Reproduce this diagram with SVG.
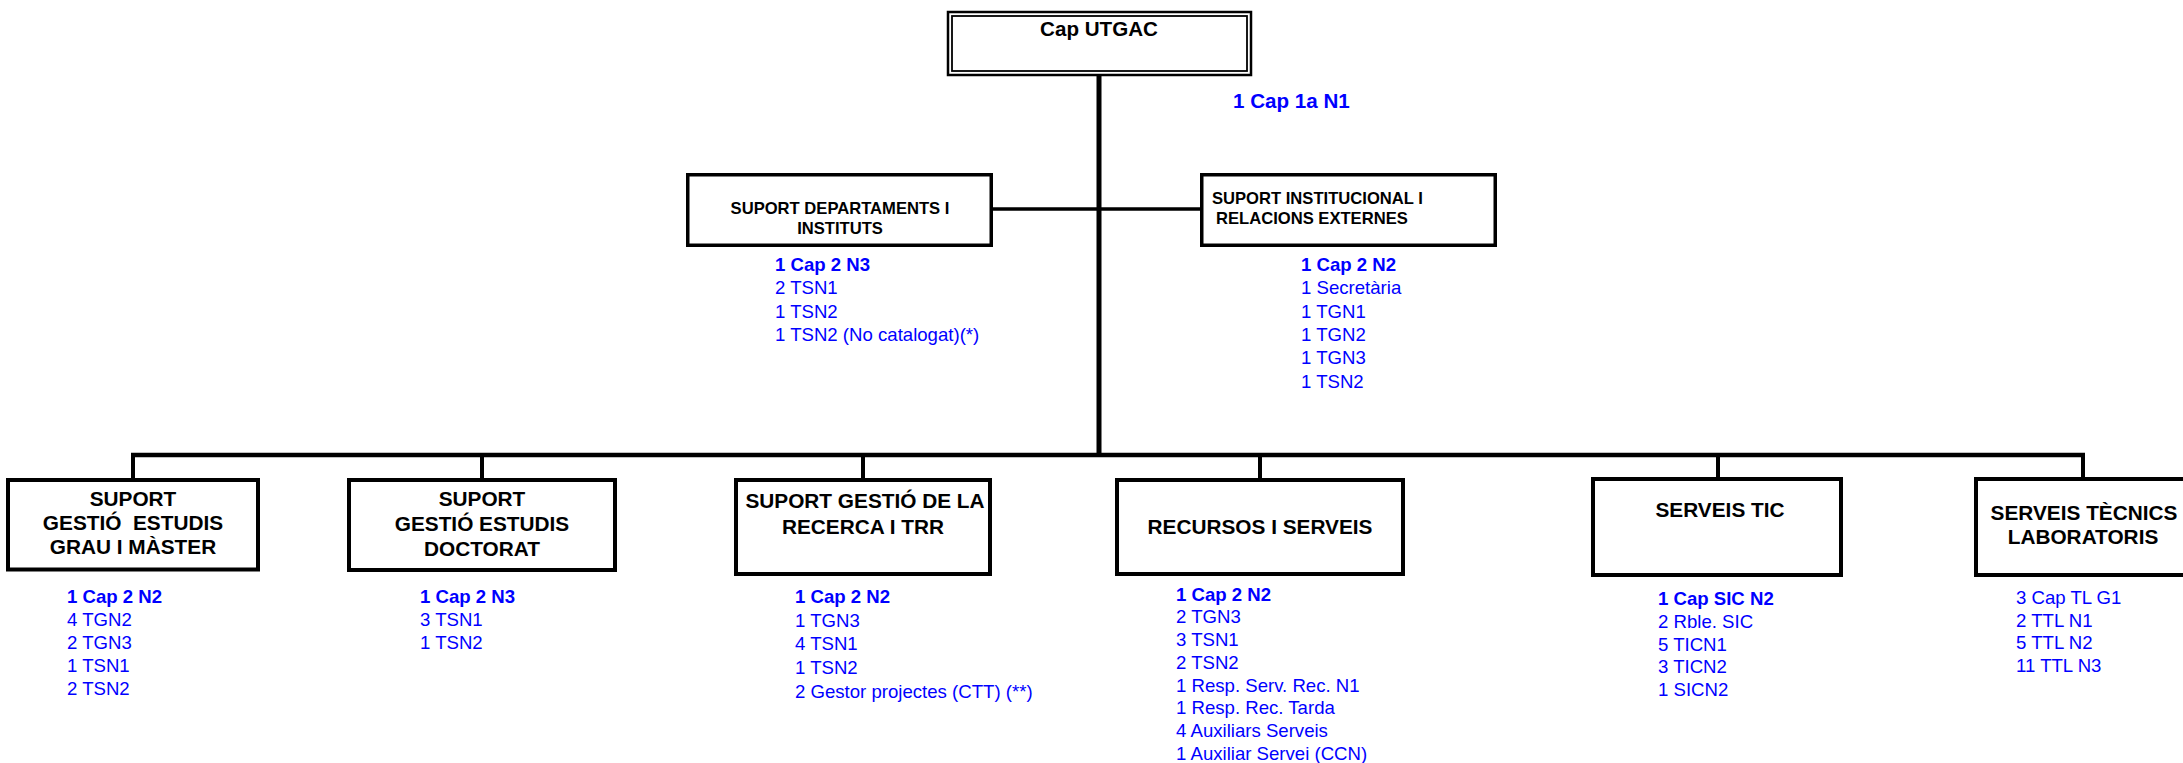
<svg xmlns="http://www.w3.org/2000/svg" width="2183" height="763" viewBox="0 0 2183 763">
<style>
.bg{fill:#ffffff}
.box{fill:#ffffff;stroke:#000000;stroke-width:4}
.box2{fill:#ffffff;stroke:#000000;stroke-width:3.5}
.lbl{font-family:"Liberation Sans",Arial,sans-serif;font-weight:bold;fill:#000000;text-anchor:middle;white-space:pre}
.l2{font-size:16.6px}
.l3{font-size:20.8px}
.lst{font-family:"Liberation Sans",Arial,sans-serif;font-size:18.6px;fill:#0000ff}
.b{font-weight:bold}
.con{fill:none;stroke:#000000;stroke-linecap:butt}
</style>
<rect class="bg" x="0" y="0" width="2183" height="763"/>

<g id="connectors">
  <line class="con" x1="1099" y1="76" x2="1099" y2="457" stroke-width="5"/>
  <line class="con" x1="993" y1="209" x2="1200" y2="209" stroke-width="3.5"/>
  <line class="con" x1="131" y1="455" x2="2085" y2="455" stroke-width="4.5"/>
  <line class="con" x1="133" y1="453" x2="133" y2="479" stroke-width="4"/>
  <line class="con" x1="482" y1="453" x2="482" y2="479" stroke-width="4"/>
  <line class="con" x1="863" y1="453" x2="863" y2="479" stroke-width="4"/>
  <line class="con" x1="1260" y1="453" x2="1260" y2="479" stroke-width="4"/>
  <line class="con" x1="1718" y1="453" x2="1718" y2="478" stroke-width="4"/>
  <line class="con" x1="2083" y1="453" x2="2083" y2="478" stroke-width="4"/>
</g>

<g id="cap-utgac">
  <rect x="948" y="12" width="303" height="63" fill="#ffffff" stroke="#000000" stroke-width="2.5"/>
  <rect x="952" y="16" width="295" height="55" fill="none" stroke="#000000" stroke-width="1.8"/>
  <text class="lbl" x="1099" y="36" font-size="20.6">Cap UTGAC</text>
  <text class="lst b" x="1233" y="108" font-size="20.6" style="font-size:20.6px">1 Cap 1a N1</text>
</g>

<g id="suport-departaments">
  <rect class="box2" x="687.75" y="174.75" width="303.5" height="70.5"/>
  <text class="lbl l2" x="840" y="213.5">SUPORT DEPARTAMENTS I</text>
  <text class="lbl l2" x="840" y="234">INSTITUTS</text>
  <text class="lst b" x="775" y="271">1 Cap 2 N3</text>
  <text class="lst" x="775" y="294.3">2 TSN1</text>
  <text class="lst" x="775" y="317.6">1 TSN2</text>
  <text class="lst" x="775" y="341">1 TSN2 (No catalogat)(*)</text>
</g>

<g id="suport-institucional">
  <rect class="box2" x="1201.75" y="174.75" width="293.5" height="70.5"/>
  <text class="lbl l2" x="1212" y="203.5" style="text-anchor:start">SUPORT INSTITUCIONAL I</text>
  <text class="lbl l2" x="1216" y="223.5" style="text-anchor:start">RELACIONS EXTERNES</text>
  <text class="lst b" x="1301" y="271">1 Cap 2 N2</text>
  <text class="lst" x="1301" y="294.3">1 Secretària</text>
  <text class="lst" x="1301" y="317.6">1 TGN1</text>
  <text class="lst" x="1301" y="341">1 TGN2</text>
  <text class="lst" x="1301" y="364.2">1 TGN3</text>
  <text class="lst" x="1301" y="387.5">1 TSN2</text>
</g>

<g id="grau-master">
  <rect class="box" x="8" y="480" width="250" height="89.5"/>
  <text class="lbl l3" x="133" y="505.7">SUPORT</text>
  <text class="lbl l3" x="133" y="530">GESTIÓ  ESTUDIS</text>
  <text class="lbl l3" x="133" y="554.3">GRAU I MÀSTER</text>
  <text class="lst b" x="67" y="603.3">1 Cap 2 N2</text>
  <text class="lst" x="67" y="626.3">4 TGN2</text>
  <text class="lst" x="67" y="649.3">2 TGN3</text>
  <text class="lst" x="67" y="672.3">1 TSN1</text>
  <text class="lst" x="67" y="695.3">2 TSN2</text>
</g>

<g id="doctorat">
  <rect class="box" x="349" y="480" width="266" height="90"/>
  <text class="lbl l3" x="482" y="505.7">SUPORT</text>
  <text class="lbl l3" x="482" y="530.7">GESTIÓ ESTUDIS</text>
  <text class="lbl l3" x="482" y="555.5">DOCTORAT</text>
  <text class="lst b" x="420" y="603.3">1 Cap 2 N3</text>
  <text class="lst" x="420" y="626.3">3 TSN1</text>
  <text class="lst" x="420" y="649.3">1 TSN2</text>
</g>

<g id="recerca">
  <rect class="box" x="736" y="480" width="254" height="94"/>
  <text class="lbl l3" x="865" y="508">SUPORT GESTIÓ DE LA</text>
  <text class="lbl l3" x="863" y="534">RECERCA I TRR</text>
  <text class="lst b" x="795" y="603.3">1 Cap 2 N2</text>
  <text class="lst" x="795" y="626.8">1 TGN3</text>
  <text class="lst" x="795" y="650.3">4 TSN1</text>
  <text class="lst" x="795" y="673.8">1 TSN2</text>
  <text class="lst" x="795" y="697.5">2 Gestor projectes (CTT) (**)</text>
</g>

<g id="recursos">
  <rect class="box" x="1117" y="480" width="286" height="94"/>
  <text class="lbl l3" x="1260" y="534">RECURSOS I SERVEIS</text>
  <text class="lst b" x="1176" y="600.7">1 Cap 2 N2</text>
  <text class="lst" x="1176" y="623.4">2 TGN3</text>
  <text class="lst" x="1176" y="646.1">3 TSN1</text>
  <text class="lst" x="1176" y="668.8">2 TSN2</text>
  <text class="lst" x="1176" y="691.5">1 Resp. Serv. Rec. N1</text>
  <text class="lst" x="1176" y="714.2">1 Resp. Rec. Tarda</text>
  <text class="lst" x="1176" y="736.9">4 Auxiliars Serveis</text>
  <text class="lst" x="1176" y="759.6">1 Auxiliar Servei (CCN)</text>
</g>

<g id="serveis-tic">
  <rect class="box" x="1593" y="479" width="248" height="96"/>
  <text class="lbl l3" x="1720" y="517">SERVEIS TIC</text>
  <text class="lst b" x="1658" y="605">1 Cap SIC N2</text>
  <text class="lst" x="1658" y="627.8">2 Rble. SIC</text>
  <text class="lst" x="1658" y="650.6">5 TICN1</text>
  <text class="lst" x="1658" y="673.4">3 TICN2</text>
  <text class="lst" x="1658" y="696.2">1 SICN2</text>
</g>

<g id="serveis-tecnics">
  <rect class="box" x="1976" y="479" width="214" height="96"/>
  <text class="lbl l3" x="2084" y="520">SERVEIS TÈCNICS</text>
  <text class="lbl l3" x="2083" y="544">LABORATORIS</text>
  <text class="lst" x="2016" y="604.3">3 Cap TL G1</text>
  <text class="lst" x="2016" y="626.8">2 TTL N1</text>
  <text class="lst" x="2016" y="649.3">5 TTL N2</text>
  <text class="lst" x="2016" y="671.8">11 TTL N3</text>
</g>
</svg>
